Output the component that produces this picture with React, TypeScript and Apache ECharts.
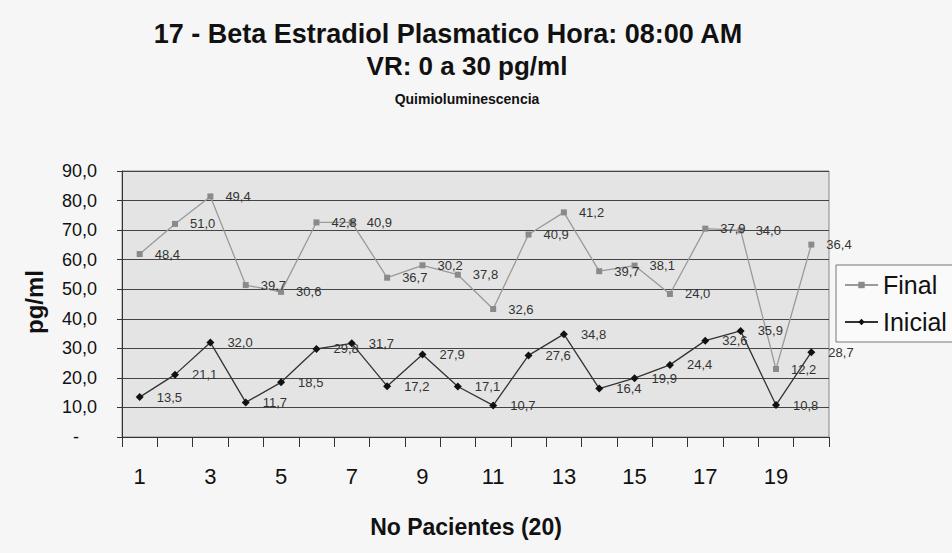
import React, { useEffect, useRef } from "react";
import * as echarts from "echarts";

const categories = ["1", "2", "3", "4", "5", "6", "7", "8", "9", "10", "11", "12", "13", "14", "15", "16", "17", "18", "19", "20"];
const inicialValues = [13.5, 21.1, 32.0, 11.7, 18.5, 29.8, 31.7, 17.2, 27.9, 17.1, 10.7, 27.6, 34.8, 16.4, 19.9, 24.4, 32.6, 35.9, 10.8, 28.7];
const finalValues = [48.4, 51.0, 49.4, 39.7, 30.6, 42.8, 40.9, 36.7, 30.2, 37.8, 32.6, 40.9, 41.2, 39.7, 38.1, 24.0, 37.9, 34.0, 12.2, 36.4];
const titleText = "17 - Beta Estradiol Plasmatico Hora: 08:00 AM";
const subtitleText = "VR: 0 a 30 pg/ml";
const methodText = "Quimioluminescencia";
const yAxisTitle = "pg/ml";
const xAxisTitle = "No Pacientes (20)";
const legendNames = ["Final", "Inicial"];

const FONT = "'Liberation Sans', Arial, Helvetica, sans-serif";
const fmt = (v: number) => v.toFixed(1).replace(".", ",");

export default function App() {
  const ref = useRef<HTMLDivElement>(null);
  useEffect(() => {
    if (!ref.current) return;
    const chart = echarts.init(ref.current, undefined, { renderer: "svg" });
    chart.setOption({
      animation: false,
      backgroundColor: "#f6f6f6",
      textStyle: { fontFamily: FONT },
      graphic: [
        { type: "text", x: 448, y: 33.5, style: { text: titleText, font: `bold 27px ${FONT}`, fill: "#111", align: "center", verticalAlign: "middle" } },
        { type: "text", x: 467, y: 66, style: { text: subtitleText, font: `bold 26px ${FONT}`, fill: "#111", align: "center", verticalAlign: "middle" } },
        { type: "text", x: 467, y: 99, style: { text: methodText, font: `bold 14px ${FONT}`, fill: "#111", align: "center", verticalAlign: "middle" } },
        { type: "text", x: 466, y: 527, style: { text: xAxisTitle, font: `bold 23px ${FONT}`, fill: "#111", align: "center", verticalAlign: "middle" } },
        { type: "text", x: 34, y: 302, rotation: Math.PI / 2, style: { text: yAxisTitle, font: `bold 24px ${FONT}`, fill: "#111", align: "center", verticalAlign: "middle" } },
      ],
      legend: {
        data: legendNames,
        orient: "vertical",
        left: 836,
        top: 265,
        padding: [6, 14, 6, 8],
        itemGap: 9,
        itemWidth: 33,
        itemHeight: 8,
        borderColor: "#777",
        borderWidth: 1,
        backgroundColor: "#fafafa",
        textStyle: { fontSize: 25, color: "#111", lineHeight: 28, fontFamily: FONT },
      },
      grid: {
        left: 122,
        right: 123,
        top: 171,
        bottom: 116,
        show: true,
        backgroundColor: "#e4e4e4",
        borderColor: "#888",
        borderWidth: 1,
      },
      xAxis: {
        type: "category",
        data: categories,
        boundaryGap: true,
        axisLine: { lineStyle: { color: "#333", width: 1 } },
        axisTick: { show: true, interval: 0, length: 10, lineStyle: { color: "#333" } },
        axisLabel: { interval: 1, fontSize: 22, color: "#111", margin: 28, fontFamily: FONT },
        splitLine: { show: false },
      },
      yAxis: {
        type: "value",
        min: 0,
        max: 90,
        interval: 10,
        axisLine: { show: true, lineStyle: { color: "#333", width: 1 } },
        axisTick: { show: true, length: 5, lineStyle: { color: "#333" } },
        axisLabel: {
          fontSize: 18,
          color: "#111",
          margin: 25,
          fontFamily: FONT,
          formatter: (v: number) => (v === 0 ? "{z|-}" : fmt(v)),
          rich: { z: { fontSize: 18, color: "#111", padding: [0, 18, 0, 0] } },
        },
        splitLine: { show: true, lineStyle: { color: "#444", width: 1 } },
      },
      series: [
        {
          name: "Inicial",
          type: "line",
          stack: "total",
          data: inicialValues,
          symbol: "diamond",
          symbolSize: 8,
          itemStyle: { color: "#111" },
          lineStyle: { color: "#333", width: 1.3 },
          label: { show: true, position: "right", distance: 13, fontSize: 13, color: "#333", fontFamily: FONT, formatter: (p: any) => fmt(p.value) },
        },
        {
          name: "Final",
          type: "line",
          stack: "total",
          data: finalValues,
          symbol: "rect",
          symbolSize: 6,
          itemStyle: { color: "#8a8a8a" },
          lineStyle: { color: "#9a9a9a", width: 1.3 },
          label: { show: true, position: "right", distance: 12, fontSize: 13, color: "#333", fontFamily: FONT, formatter: (p: any) => fmt(p.value) },
        },
      ],
    });
    return () => chart.dispose();
  }, []);
  return <div ref={ref} style={{ position: "fixed", left: 0, top: 0, width: 952, height: 553 }} />;
}
